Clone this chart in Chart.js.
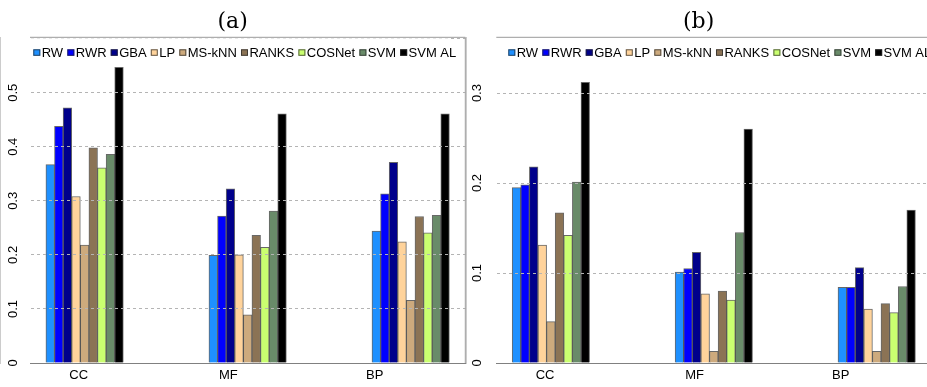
<!DOCTYPE html>
<html>
<head>
<meta charset="utf-8">
<script src="https://cdn.jsdelivr.net/npm/chart.js@4/dist/chart.umd.min.js"></script>
<style>
  html, body { margin: 0; padding: 0; background: #fff; overflow: hidden; width: 927px; height: 387px; }
  .panel { position: absolute; top: 0; width: 468px; height: 387px; }
  #pa { left: 0; }
  #pb { left: 466px; }
</style>
</head>
<body>
<div class="panel" id="pa"><canvas id="ca" width="468" height="387"></canvas></div>
<div class="panel" id="pb"><canvas id="cb" width="468" height="387"></canvas></div>
<script>
// Ontology groups on the x axis and the compared methods
const categories = ['CC', 'MF', 'BP'];
const methods = ['RW', 'RWR', 'GBA', 'LP', 'MS-kNN', 'RANKS', 'COSNet', 'SVM', 'SVM AL'];
const methodColors = ['#1E90FF', '#0000FF', '#00008B', '#FFD39B', '#CDAA7D', '#8B7355', '#CAFF70', '#698B69', '#000000'];

// Panel (a): one value per method, in the order of `methods`
const aCC = [0.367, 0.438, 0.472, 0.308, 0.218, 0.398, 0.361, 0.386, 0.547];
const aMF = [0.199, 0.272, 0.322, 0.200, 0.089, 0.236, 0.214, 0.281, 0.461];
const aBP = [0.244, 0.313, 0.371, 0.224, 0.116, 0.271, 0.241, 0.273, 0.461];

// Panel (b)
const bCC = [0.195, 0.198, 0.218, 0.131, 0.046, 0.167, 0.142, 0.201, 0.312];
const bMF = [0.101, 0.105, 0.123, 0.077, 0.013, 0.080, 0.070, 0.145, 0.260];
const bBP = [0.084, 0.084, 0.106, 0.060, 0.013, 0.066, 0.056, 0.085, 0.170];

// Y tick labels; panel (a) also has a grid line at 0.6 hidden behind the legend
const yTicksA = [0, 0.1, 0.2, 0.3, 0.4, 0.5];
const yGridA = [0, 0.1, 0.2, 0.3, 0.4, 0.5, 0.6];
const yTicksB = [0, 0.1, 0.2, 0.3];

// Where the group names sit along the x axis (group centres are 0, 1, 2)
const catLabelPos = [-0.036, 0.882, 1.779];

const FONT = '"Liberation Sans", Arial, Helvetica, sans-serif';

// Box frame (top/right) and a horizontal legend drawn inside the plot area
const framedLegend = {
  id: 'framedLegend',
  afterDraw(chart, args, opts) {
    const { ctx, chartArea: a } = chart;
    ctx.save();
    // legend backing
    ctx.fillStyle = '#fff';
    ctx.fillRect(a.left + 1, a.top + 1, opts.inset + 414, 27);
    // legend entries
    ctx.font = '13px ' + FONT;
    ctx.textBaseline = 'alphabetic';
    let x = a.left + opts.inset;
    chart.data.datasets.forEach(ds => {
      ctx.fillStyle = ds.backgroundColor;
      ctx.fillRect(x, 49.3, 7, 6.5);
      ctx.strokeStyle = 'rgba(40,40,40,0.75)';
      ctx.lineWidth = 1;
      ctx.strokeRect(x + 0.5, 49.8, 6, 5.5);
      ctx.fillStyle = '#000';
      ctx.fillText(ds.label, x + 8.4, 57.4);
      x += 8.4 + ctx.measureText(ds.label).width + 4.2;
    });
    // frame top and right edges
    ctx.strokeStyle = '#9a9a9a';
    ctx.lineWidth = 1;
    ctx.beginPath();
    ctx.moveTo(a.left, a.top);
    ctx.lineTo(a.right, a.top);
    ctx.lineTo(a.right, a.bottom);
    ctx.stroke();
    ctx.restore();
  }
};

function buildPanel(canvasId, title, rows, yMax, yTicks, yGrid, axisWidth, labelPad, legendInset) {
  const datasets = methods.map((m, k) => ({
    label: m,
    data: rows.map((row, i) => ({ x: i, y: row[k] })),
    backgroundColor: methodColors[k],
    borderColor: 'rgba(40,40,40,0.7)',
    borderWidth: 1,
    barThickness: 8.6
  }));

  return new Chart(document.getElementById(canvasId), {
    type: 'bar',
    data: { datasets },
    plugins: [framedLegend],
    options: {
      responsive: false,
      devicePixelRatio: 1,
      animation: false,
      layout: { padding: { left: 0, right: 2.7, top: 0, bottom: 0 } },
      plugins: {
        legend: { display: false },
        tooltip: { enabled: false },
        title: {
          display: true,
          text: title,
          color: '#000',
          font: { family: '"DejaVu Serif", "Liberation Serif", serif', size: 22, weight: 'normal', lineHeight: 1.2 },
          padding: { top: 9.5, bottom: 1.4 }
        },
        framedLegend: { inset: legendInset }
      },
      scales: {
        x: {
          type: 'linear',
          offset: false,
          min: -0.335,
          max: 2.335,
          afterBuildTicks: s => { s.ticks = catLabelPos.map(v => ({ value: v })); },
          afterFit: s => { s.height = 24; },
          grid: { display: false, drawTicks: false, offset: false },
          border: { display: true, color: '#808080', width: 1 },
          ticks: {
            autoSkip: false,
            maxRotation: 0,
            padding: 5,
            color: '#000',
            font: { family: FONT, size: 13 },
            callback: (v, i) => categories[i]
          }
        },
        y: {
          min: 0,
          max: yMax,
          afterBuildTicks: s => { s.ticks = yGrid.map(v => ({ value: v })); },
          afterFit: s => { s.width = axisWidth; },
          grid: {
            z: 1,
            drawTicks: false,
            lineWidth: 1,
            color: ctx => (ctx.tick && ctx.tick.value === 0) ? 'rgba(0,0,0,0)' : '#b4b4b4'
          },
          border: { display: true, color: '#9a9a9a', width: 1, dash: [3, 3] },
          ticks: {
            autoSkip: false,
            minRotation: 90,
            maxRotation: 90,
            crossAlign: 'center',
            padding: labelPad,
            color: '#000',
            font: { family: FONT, size: 13 },
            callback: (v, i) => (i < yTicks.length ? String(yTicks[i]) : '')
          }
        }
      }
    }
  });
}

buildPanel('ca', '(a)', [aCC, aMF, aBP], 0.6025, yTicksA, yGridA, 30, 7.7, 3.3);
buildPanel('cb', '(b)', [bCC, bMF, bBP], 0.362, yTicksB, yTicksB, 30.3, 9.5, 12);
</script>
</body>
</html>
